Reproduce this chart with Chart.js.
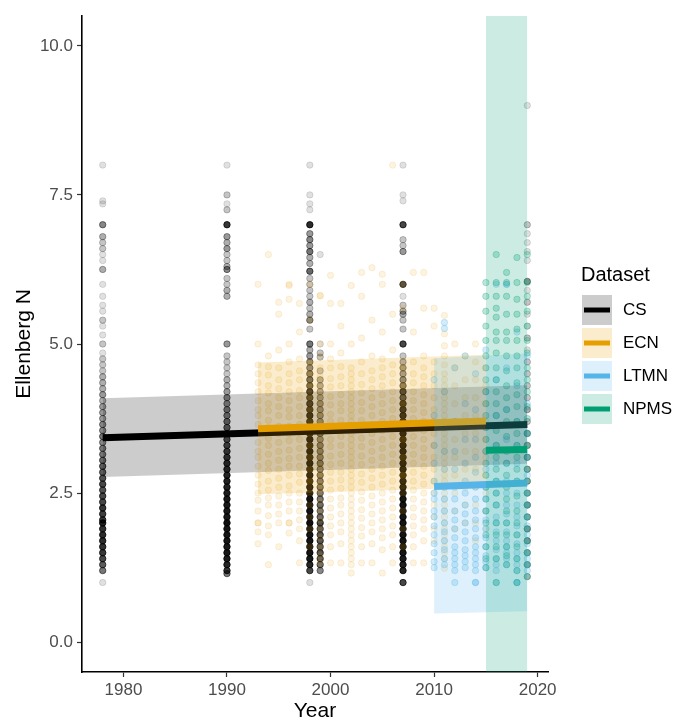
<!DOCTYPE html>
<html>
<head>
<meta charset="utf-8">
<title>Ellenberg N by dataset</title>
<script src="https://cdn.jsdelivr.net/npm/chart.js@4.4.1/dist/chart.umd.min.js"></script>
<style>
html, body { margin: 0; padding: 0; background: #fff; }
#wrap { width: 673px; height: 720px; position: relative; }
</style>
</head>
<body>
<div id="wrap"><canvas id="chart1" width="673" height="720"></canvas></div>
<script>
// ---- data ----
var groups = ["CS", "ECN", "LTMN", "NPMS"];
var xTicks = [1980, 1990, 2000, 2010, 2020];
var yTicks = [0, 2.5, 5, 7.5, 10];

// CS survey: [value, overlap count]
var csYears = [1978, 1990, 1998, 1999, 2007, 2019];
var csValues = [
  [[8.0,1],[7.4,1],[7.35,1],[7.0,5],[6.8,3],[6.7,2],[6.6,2],[6.5,1],[6.4,1],[6.25,3],[6.0,1],[5.8,1],[5.65,1],[5.55,1],[5.4,2],[5.3,1],[5.15,1],[5.0,2],[4.85,1],[4.75,2],[4.65,2],[4.55,2],[4.45,3],[4.35,3],[4.25,3],[4.15,4],[4.05,3],[3.95,4],[3.85,4],[3.75,4],[3.65,5],[3.55,5],[3.45,6],[3.35,5],[3.25,6],[3.15,6],[3.05,7],[2.95,8],[2.85,8],[2.75,9],[2.65,10],[2.55,9],[2.45,10],[2.35,10],[2.25,12],[2.15,11],[2.05,12],[2.0,16],[1.9,13],[1.8,14],[1.7,14],[1.6,13],[1.5,12],[1.4,10],[1.3,8],[1.2,6],[1.0,1]],
  [[8.0,1],[7.5,2],[7.35,1],[7.25,2],[7.0,12],[6.8,4],[6.7,3],[6.6,4],[6.5,2],[6.4,2],[6.3,3],[6.25,5],[6.1,2],[6.0,2],[5.9,3],[5.8,3],[5.0,4],[4.8,2],[4.7,2],[4.6,2],[4.5,2],[4.4,3],[4.3,3],[4.2,4],[4.1,5],[4.0,5],[3.9,6],[3.8,6],[3.7,7],[3.6,8],[3.5,8],[3.4,9],[3.3,10],[3.2,11],[3.1,12],[3.0,14],[2.9,14],[2.8,15],[2.7,16],[2.6,16],[2.5,17],[2.4,18],[2.3,18],[2.2,18],[2.1,18],[2.0,22],[1.9,19],[1.8,19],[1.7,19],[1.6,18],[1.5,18],[1.4,17],[1.3,15],[1.2,12],[1.15,6]],
  [[8.0,1],[7.5,1],[7.35,1],[7.25,1],[7.0,14],[6.85,4],[6.75,5],[6.65,4],[6.55,6],[6.45,3],[6.35,3],[6.22,7],[6.1,2],[6.0,2],[5.9,2],[5.8,2],[5.7,3],[5.6,2],[5.5,3],[5.4,5],[5.25,2],[5.0,6],[4.9,3],[4.8,4],[4.7,5],[4.6,5],[4.5,6],[4.4,7],[4.3,8],[4.2,12],[4.1,10],[4.0,12],[3.9,14],[3.8,15],[3.7,16],[3.6,18],[3.5,20],[3.4,20],[3.3,20],[3.2,20],[3.1,20],[3.0,20],[2.9,20],[2.8,20],[2.7,20],[2.6,20],[2.5,20],[2.4,20],[2.3,20],[2.2,20],[2.1,20],[2.0,22],[1.9,20],[1.8,20],[1.7,20],[1.6,20],[1.5,20],[1.4,18],[1.3,15],[1.2,10],[1.0,1]],
  [[6.5,1],[5.0,1],[4.85,2],[4.78,2],[4.55,2],[4.4,3],[4.3,3],[4.2,3],[4.1,3],[4.0,4],[3.9,4],[3.8,4],[3.7,4],[3.6,4],[3.5,5],[3.4,4],[3.3,5],[3.2,5],[3.1,5],[3.0,6],[2.9,5],[2.8,6],[2.7,6],[2.6,6],[2.5,6],[2.4,6],[2.3,7],[2.2,6],[2.1,7],[2.0,10],[1.9,8],[1.8,9],[1.7,9],[1.6,8],[1.5,9],[1.4,8],[1.3,7],[1.2,5]],
  [[8.0,1],[7.5,1],[7.4,1],[7.0,10],[6.75,2],[6.65,2],[6.55,4],[6.0,10],[5.8,1],[5.65,2],[5.55,3],[5.5,3],[5.4,2],[5.25,2],[5.0,10],[4.8,2],[4.7,3],[4.6,4],[4.5,4],[4.4,5],[4.3,6],[4.2,10],[4.1,8],[4.0,14],[3.9,14],[3.8,15],[3.7,16],[3.6,18],[3.5,20],[3.4,20],[3.3,20],[3.2,20],[3.1,20],[3.0,20],[2.9,20],[2.8,20],[2.7,20],[2.6,20],[2.5,20],[2.4,20],[2.3,20],[2.2,20],[2.1,20],[2.0,20],[1.9,20],[1.8,20],[1.7,20],[1.6,20],[1.5,20],[1.4,18],[1.3,16],[1.2,15],[1.0,10]],
  [[9.0,1],[7.0,2],[6.85,1],[6.7,1],[6.55,1],[6.4,1],[6.05,4],[5.9,1],[5.7,2],[5.5,1],[5.3,1],[5.1,2],[4.9,1],[4.7,2],[4.5,2],[4.3,2],[4.1,2],[3.9,3],[3.7,2],[3.5,3],[3.3,3],[3.1,3],[2.9,3],[2.7,3],[2.5,3],[2.3,4],[2.1,3],[1.9,4],[1.7,4],[1.5,3],[1.3,3],[1.1,2]]
];

var ecnYears = [1993, 1994, 1995, 1996, 1997, 1998, 1999, 2000, 2001, 2002, 2003, 2004, 2005, 2006, 2007, 2008, 2009, 2010, 2011, 2012, 2013, 2014, 2015];
var ecnValues = [
  [6.0, 5.0, 4.65, 4.5, 4.35, 4.2, 4.05, 3.9, 3.8, 3.65, 3.5, 3.35, 3.2, 3.1, 2.95, 2.8, 2.65, 2.5, 2.38, 2.2, 2.0, 2.0, 1.85, 1.65],
  [6.5, 4.8, 4.62, 4.48, 4.3, 4.18, 4.0, 3.88, 3.72, 3.6, 3.42, 3.3, 3.15, 3.0, 2.88, 2.7, 2.55, 2.42, 2.3, 2.12, 1.95, 1.8, 1.3],
  [5.7, 5.5, 4.9, 4.6, 4.4, 4.25, 4.1, 3.95, 3.8, 3.62, 3.5, 3.35, 3.2, 3.05, 2.9, 2.75, 2.6, 2.45, 2.3, 2.15, 2.0, 1.6],
  [6.0, 5.98, 5.75, 5.0, 4.7, 4.5, 4.35, 4.2, 4.05, 3.9, 3.78, 3.62, 3.5, 3.38, 3.22, 3.08, 2.95, 2.8, 2.62, 2.5, 2.35, 2.2, 2.0, 2.0, 1.83],
  [5.68, 5.2, 4.75, 4.55, 4.4, 4.22, 4.1, 3.95, 3.8, 3.65, 3.52, 3.4, 3.25, 3.1, 2.95, 2.82, 2.68, 2.5, 2.35, 2.2, 2.05, 1.9, 1.7, 1.33],
  [6.0, 5.4, 4.7, 4.5, 4.3, 4.1, 3.9, 3.7, 3.5, 3.3, 3.1, 2.9, 2.7, 2.5, 2.3, 2.1, 1.9, 1.6],
  [5.81, 5.81, 5.0, 4.8, 4.6, 4.45, 4.3, 4.15, 4.0, 3.85, 3.7, 3.55, 3.4, 3.25, 3.1, 2.95, 2.8, 2.65, 2.5, 2.35, 2.2, 2.05, 1.9, 1.75, 1.6, 1.45, 1.33],
  [6.15, 5.68, 5.0, 4.75, 4.6, 4.42, 4.28, 4.12, 3.98, 3.82, 3.7, 3.55, 3.4, 3.28, 3.12, 2.98, 2.85, 2.7, 2.55, 2.4, 2.25, 2.1, 1.95, 1.8, 1.6, 1.33],
  [5.68, 5.3, 4.85, 4.62, 4.45, 4.3, 4.15, 4.0, 3.88, 3.72, 3.58, 3.45, 3.3, 3.15, 3.0, 2.85, 2.72, 2.58, 2.42, 2.3, 2.15, 2.0, 1.85, 1.65, 1.33],
  [5.98, 5.0, 4.6, 4.5, 4.4, 4.3, 4.2, 4.1, 4.0, 3.9, 3.8, 3.7, 3.6, 3.5, 3.4, 3.3, 3.2, 3.1, 3.0, 2.9, 2.8, 2.7, 2.6, 2.5, 2.4, 2.3, 2.2, 2.1, 2.0, 1.9, 1.8, 1.7, 1.6, 1.5, 1.4, 1.3, 1.16],
  [6.2, 5.8, 5.1, 4.7, 4.5, 4.32, 4.18, 4.02, 3.88, 3.72, 3.58, 3.42, 3.28, 3.12, 2.98, 2.82, 2.68, 2.52, 2.38, 2.22, 2.08, 1.92, 1.78, 1.6, 1.33],
  [6.28, 5.4, 4.8, 4.55, 4.4, 4.25, 4.1, 3.95, 3.8, 3.65, 3.5, 3.35, 3.2, 3.05, 2.9, 2.75, 2.6, 2.45, 2.3, 2.15, 2.0, 1.85, 1.65, 1.33],
  [6.17, 6.0, 5.2, 4.75, 4.6, 4.45, 4.3, 4.15, 4.0, 3.85, 3.7, 3.55, 3.4, 3.25, 3.1, 2.95, 2.8, 2.65, 2.5, 2.35, 2.2, 2.05, 1.9, 1.75, 1.55, 1.16],
  [8.0, 5.5, 4.9, 4.65, 4.5, 4.35, 4.2, 4.05, 3.9, 3.75, 3.6, 3.45, 3.3, 3.15, 3.0, 2.85, 2.7, 2.55, 2.4, 2.25, 2.1, 1.95, 1.8, 1.6, 1.33],
  [6.0, 5.6, 4.6, 4.3, 4.0, 3.7, 3.4, 3.1, 2.8, 2.5, 2.2, 1.9, 1.6],
  [6.2, 5.2, 4.7, 4.5, 4.35, 4.2, 4.05, 3.9, 3.75, 3.6, 3.45, 3.3, 3.15, 3.0, 2.85, 2.7, 2.55, 2.4, 2.25, 2.1, 1.95, 1.8, 1.6, 1.33],
  [6.2, 5.6, 4.8, 4.6, 4.45, 4.3, 4.15, 4.0, 3.85, 3.7, 3.55, 3.4, 3.25, 3.1, 2.95, 2.8, 2.65, 2.5, 2.35, 2.2, 2.05, 1.9, 1.7, 1.33],
  [5.6, 5.3, 4.7, 4.5, 4.3, 4.1, 3.9, 3.7, 3.5, 3.3, 3.1, 2.9, 2.7, 2.5, 2.3, 2.1, 1.9, 1.7],
  [5.48, 5.17, 4.97, 4.8, 4.65, 4.5, 4.4, 4.3, 4.2, 4.1, 4.0, 3.9, 3.8, 3.7, 3.6, 3.5, 3.4, 3.3, 3.2, 3.1, 3.0, 2.9, 2.8, 2.7, 2.6, 2.5, 2.4, 2.3, 2.2, 2.1, 2.0, 1.9, 1.8, 1.7, 1.6, 1.5, 1.4, 1.24],
  [5.0, 4.6, 4.3, 4.0, 3.7, 3.4, 3.1, 2.8, 2.5, 2.2, 1.9],
  [4.8, 4.4, 4.1, 3.8, 3.5, 3.2, 2.9, 2.6, 2.3, 2.0],
  [5.0, 4.7, 4.4, 4.1, 3.8, 3.5, 3.2, 2.9, 2.6, 2.3, 2.0, 1.7],
  [4.6, 4.3, 4.0, 3.7, 3.4, 3.1, 2.8, 2.5, 2.2, 1.9]
];

var ltmnYears = [2010, 2011, 2012, 2013, 2014, 2015, 2016, 2017, 2018, 2019];
var ltmnValues = [
  [4.4, 3.8, 3.3, 3.0, 2.7, 2.5, 2.4, 2.2, 2.1, 1.95, 1.8, 1.65, 1.5, 1.35, 1.25],
  [5.36, 5.26, 4.2, 3.6, 3.2, 2.9, 2.6, 2.4, 2.2, 2.0, 1.85, 1.7, 1.55, 1.4, 1.3],
  [4.6, 3.7, 3.2, 2.9, 2.6, 2.4, 2.2, 2.05, 1.9, 1.75, 1.6, 1.5, 1.4, 1.3, 1.2, 1.0],
  [4.8, 4.0, 3.4, 3.0, 2.7, 2.5, 2.3, 2.15, 2.0, 1.85, 1.7, 1.55, 1.45, 1.35, 1.25],
  [4.5, 3.9, 3.4, 3.1, 2.85, 2.6, 2.4, 2.2, 2.05, 1.9, 1.75, 1.6, 1.5, 1.4, 1.3, 1.2, 1.0, 1.0],
  [4.9, 4.2, 3.6, 3.2, 2.9, 2.6, 2.4, 2.2, 2.05, 1.9, 1.75, 1.6, 1.45, 1.35, 1.25],
  [6.0, 4.4, 3.8, 3.3, 3.0, 2.7, 2.5, 2.3, 2.1, 2.0, 1.85, 1.7, 1.55, 1.4, 1.3, 1.2, 1.0],
  [6.0, 6.0, 4.6, 3.9, 3.4, 3.0, 2.7, 2.5, 2.3, 2.15, 2.0, 1.85, 1.7, 1.6, 1.5, 1.4, 1.3],
  [5.2, 4.3, 3.7, 3.3, 3.0, 2.7, 2.5, 2.3, 2.1, 1.95, 1.8, 1.65, 1.5, 1.4, 1.3, 1.2, 1.0, 1.0],
  [4.8, 4.0, 3.5, 3.1, 2.8, 2.5, 2.3, 2.1, 1.95, 1.8, 1.65, 1.5, 1.4, 1.3, 1.2]
];

var npmsYears = [2015, 2016, 2017, 2018, 2019];
var npmsValues = [
  [6.03, 5.8, 5.55, 5.3, 5.06, 4.8, 4.6, 4.4, 4.2, 4.0, 3.8, 3.6, 3.4, 3.2, 3.0, 2.8, 2.6, 2.4, 2.2, 2.0, 1.8, 1.6, 1.4, 1.25],
  [6.5, 6.03, 5.8, 5.6, 5.45, 5.2, 5.06, 4.85, 4.6, 4.4, 4.2, 4.0, 3.8, 3.55, 3.3, 3.1, 2.9, 2.7, 2.5, 2.3, 2.0, 1.8, 1.6, 1.4, 1.0],
  [6.2, 6.03, 5.8, 5.5, 5.2, 5.06, 4.8, 4.55, 4.3, 4.1, 3.9, 3.7, 3.45, 3.2, 3.0, 2.8, 2.6, 2.4, 2.2, 2.0, 1.8, 1.6, 1.45, 1.3],
  [6.45, 6.03, 5.75, 5.5, 5.25, 5.06, 4.8, 4.6, 4.35, 4.15, 3.95, 3.7, 3.5, 3.3, 3.1, 2.9, 2.7, 2.45, 2.2, 2.0, 1.8, 1.6, 1.4, 1.2, 1.0],
  [6.5, 6.03, 5.8, 5.55, 5.3, 5.06, 4.85, 4.6, 4.4, 4.2, 3.95, 3.75, 3.5, 3.3, 3.1, 2.9, 2.7, 2.5, 2.3, 2.1, 1.9, 1.7, 1.5, 1.3, 1.1]
];

// fitted lines and confidence bands (start year, end year)
var csFitX = [1978, 2019], csFit = [3.43, 3.65], csLow = [2.77, 2.99], csHigh = [4.09, 4.31];
var ecnFitX = [1993, 2015], ecnFit = [3.58, 3.71], ecnLow = [2.48, 2.6], ecnHigh = [4.69, 4.82];
var ltmnFitX = [2010, 2019], ltmnFit = [2.61, 2.67], ltmnLow = [0.48, 0.52], ltmnHigh = [4.76, 4.84];
var npmsFitX = [2015, 2019], npmsFit = [3.22, 3.23], npmsLow = [-4.6, -4.6], npmsHigh = [11.1, 11.1];

// ---- styling ----
var rgb = { CS: "0,0,0", ECN: "230,159,0", LTMN: "86,180,233", NPMS: "0,158,115" };
var solid = { CS: "#000000", ECN: "#E69F00", LTMN: "#56B4E9", NPMS: "#009E73" };
var ptAlpha = { CS: 0.12, ECN: 0.12, LTMN: 0.26, NPMS: 0.26 };
var fontFam = "'Liberation Sans', Arial, Helvetica, sans-serif";

function toPoints(years, cols) {
  var out = [];
  for (var i = 0; i < years.length; i++) {
    cols[i].forEach(function (v) {
      if (typeof v === "number") out.push({ x: years[i], y: v, w: 1 });
      else out.push({ x: years[i], y: v[0], w: v[1] });
    });
  }
  return out;
}
function xy(xs, ys) {
  return xs.map(function (x, i) { return { x: x, y: ys[i] }; });
}
function shade(g) {
  return function (c) {
    var w = (c.raw && c.raw.w) ? c.raw.w : 1;
    var a = 1 - Math.pow(1 - ptAlpha[g], w);
    return "rgba(" + rgb[g] + "," + a.toFixed(3) + ")";
  };
}

var pointSets = {
  CS: toPoints(csYears, csValues),
  ECN: toPoints(ecnYears, ecnValues),
  LTMN: toPoints(ltmnYears, ltmnValues),
  NPMS: toPoints(npmsYears, npmsValues)
};
var fits = {
  CS: [csFitX, csFit, csLow, csHigh],
  ECN: [ecnFitX, ecnFit, ecnLow, ecnHigh],
  LTMN: [ltmnFitX, ltmnFit, ltmnLow, ltmnHigh],
  NPMS: [npmsFitX, npmsFit, npmsLow, npmsHigh]
};

// build datasets in drawing order (first = bottom)
var datasets = [];
groups.forEach(function (g) {
  datasets.push({
    type: "scatter",
    data: pointSets[g],
    pointRadius: 3.2,
    pointBorderWidth: 1,
    backgroundColor: shade(g),
    borderColor: shade(g),
    pointHoverRadius: 3.2
  });
});
groups.forEach(function (g) {
  var f = fits[g];
  var lowIdx = datasets.length;
  datasets.push({
    type: "line", data: xy(f[0], f[2]),
    borderColor: "transparent", borderWidth: 0, pointRadius: 0, fill: false
  });
  datasets.push({
    type: "line", data: xy(f[0], f[3]),
    borderColor: "transparent", borderWidth: 0, pointRadius: 0,
    fill: lowIdx, backgroundColor: "rgba(" + rgb[g] + ",0.2)"
  });
  datasets.push({
    type: "line", data: xy(f[0], f[1]),
    borderColor: solid[g], borderWidth: 7, borderCapStyle: "butt",
    pointRadius: 0, fill: false
  });
});
// Chart.js draws lower "order" on top
datasets.forEach(function (d, i) { d.order = datasets.length - i; });

var keyPlugin = {
  id: "datasetKey",
  afterDraw: function (chart) {
    var ctx = chart.ctx;
    ctx.save();
    ctx.textBaseline = "middle";
    ctx.textAlign = "left";
    ctx.fillStyle = "#000";
    ctx.font = "20px " + fontFam;
    ctx.fillText("Dataset", 581, 275);
    groups.forEach(function (g, i) {
      var top = 295 + i * 33;
      ctx.fillStyle = "rgba(" + rgb[g] + ",0.2)";
      ctx.fillRect(582, top, 30, 30);
      ctx.strokeStyle = solid[g];
      ctx.lineWidth = 5;
      ctx.beginPath();
      ctx.moveTo(584, top + 15);
      ctx.lineTo(610, top + 15);
      ctx.stroke();
      ctx.fillStyle = "#000";
      ctx.font = "17px " + fontFam;
      ctx.fillText(g, 623, top + 15);
    });
    ctx.restore();
  }
};

Chart.defaults.font.family = fontFam;

var chart = new Chart(document.getElementById("chart1").getContext("2d"), {
  type: "scatter",
  data: { datasets: datasets },
  plugins: [keyPlugin],
  options: {
    responsive: false,
    animation: false,
    events: [],
    layout: { padding: { left: 0, right: 125, top: 16, bottom: 0 } },
    plugins: { legend: { display: false }, tooltip: { enabled: false } },
    scales: {
      x: {
        type: "linear", min: 1976, max: 2021,
        afterBuildTicks: function (s) { s.ticks = xTicks.map(function (v) { return { value: v }; }); },
        afterFit: function (s) { s.height = 48; },
        grid: { drawOnChartArea: false, drawTicks: true, tickLength: 5, tickColor: "#333", tickWidth: 1.2 },
        border: { display: true, color: "#000", width: 1.6 },
        ticks: { color: "#4d4d4d", font: { size: 17 }, padding: 3, maxRotation: 0, autoSkip: false,
          callback: function (v) { return String(v); } },
        title: { display: true, text: "Year", color: "#000", font: { size: 21, lineHeight: 1 }, padding: { top: 0, bottom: -2 } }
      },
      y: {
        type: "linear", min: -0.5, max: 10.5,
        afterBuildTicks: function (s) { s.ticks = yTicks.map(function (v) { return { value: v }; }); },
        afterFit: function (s) { s.width = 82; },
        grid: { drawOnChartArea: false, drawTicks: true, tickLength: 5, tickColor: "#333", tickWidth: 1.2 },
        border: { display: true, color: "#000", width: 1.6 },
        ticks: { color: "#4d4d4d", font: { size: 17 }, padding: 4, autoSkip: false,
          callback: function (v) { return Number(v).toFixed(1); } },
        title: { display: true, text: "Ellenberg N", color: "#000", font: { size: 21, lineHeight: 1 }, padding: { top: 14, bottom: 0 } }
      }
    }
  }
});
</script>
</body>
</html>
